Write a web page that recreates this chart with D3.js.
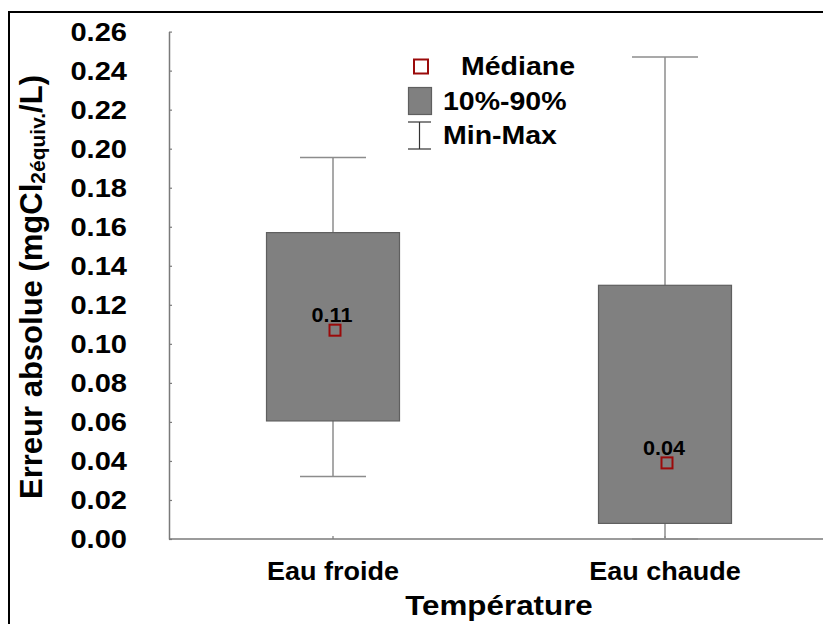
<!DOCTYPE html>
<html>
<head>
<meta charset="utf-8">
<script src="https://cdn.jsdelivr.net/npm/d3@7"></script>
<style>
  html, body { margin: 0; padding: 0; background: #fff; }
  svg { display: block; font-family: "Liberation Sans", Arial, sans-serif; font-weight: bold; }
</style>
</head>
<body>
<svg id="chart" width="823" height="624"></svg>
<script>
// Box-plot data: one entry per temperature condition
const categories = ["Eau froide", "Eau chaude"];
const minValues = [0.032, 0.000];
const p10Values = [0.0605, 0.008];
const medianValues = [0.107, 0.039];
const p90Values = [0.157, 0.130];
const maxValues = [0.1955, 0.247];
const medianLabels = ["0.11", "0.04"];
const yTicks = [0, 0.02, 0.04, 0.06, 0.08, 0.10, 0.12, 0.14, 0.16, 0.18, 0.20, 0.22, 0.24, 0.26];
const yTickLabels = ["0.00", "0.02", "0.04", "0.06", "0.08", "0.10", "0.12", "0.14", "0.16", "0.18", "0.20", "0.22", "0.24", "0.26"];
const legendLabels = ["Médiane", "10%-90%", "Min-Max"];

const svg = d3.select("#chart");
const SX = 1.14; // horizontal stretch applied to the labels

// outer frame
svg.append("rect").attr("x", 9).attr("y", 12).attr("width", 840).attr("height", 700)
  .attr("fill", "none").attr("stroke", "#000").attr("stroke-width", 2);

const plotLeft = 169, plotRight = 840, plotBottom = 539;
const y = d3.scaleLinear().domain([0, 0.26]).range([plotBottom, 31.6]);
const x = d3.scalePoint().domain(categories).range([333, 665]);

const axisColor = "#7a7a7a";

// y axis with inward ticks
const yAxis = svg.append("g").attr("transform", `translate(${plotLeft},0)`)
  .call(d3.axisLeft(y).tickValues(yTicks).tickSize(-3).tickSizeOuter(0)
    .tickFormat((d, i) => yTickLabels[i]));
yAxis.select(".domain").attr("stroke", axisColor).attr("stroke-width", 1.5);
yAxis.selectAll(".tick line").attr("stroke", axisColor).attr("stroke-width", 1.2);
yAxis.selectAll(".tick text")
  .attr("x", 0).attr("dy", null)
  .attr("transform", `translate(-42,8.8) scale(${SX},1)`)
  .attr("font-size", 25.5).attr("font-weight", "bold").attr("fill", "#000")
  .attr("font-family", "Liberation Sans, Arial, sans-serif");

// x axis line and inward ticks
svg.append("line").attr("x1", plotLeft).attr("x2", plotRight)
  .attr("y1", plotBottom).attr("y2", plotBottom)
  .attr("stroke", axisColor).attr("stroke-width", 1.5);
svg.selectAll(".xtick").data(categories).join("line")
  .attr("x1", d => x(d)).attr("x2", d => x(d))
  .attr("y1", plotBottom).attr("y2", plotBottom - 3)
  .attr("stroke", axisColor).attr("stroke-width", 1.2);

// stretched text helper
function label(parent, tx, ty, text, size, anchor, sx) {
  const g = parent.append("g").attr("transform", `translate(${tx},${ty}) scale(${sx},1)`);
  return g.append("text").attr("text-anchor", anchor).attr("font-size", size)
    .attr("font-weight", "bold").attr("fill", "#000").text(text);
}

categories.forEach(c => label(svg, x(c), 580, c, 25, "middle", 1.08));
label(svg, 499, 615, "Température", 28, "middle", 1.12);

// y axis title with subscript
const yt = svg.append("text")
  .attr("transform", "translate(42,287) rotate(-90)")
  .attr("text-anchor", "middle").attr("font-size", 31).attr("font-weight", "bold").attr("fill", "#000");
yt.append("tspan").text("Erreur absolue (mgCl");
yt.append("tspan").attr("font-size", 21).attr("dy", 3).text("2équiv.");
yt.append("tspan").attr("dy", -3).text("/L)");

// boxes
const boxW = 133, capW = 66;
const data = categories.map((c, i) => ({
  c, min: minValues[i], p10: p10Values[i], med: medianValues[i],
  p90: p90Values[i], max: maxValues[i], lab: medianLabels[i]
}));
const whiskerColor = "#8c8c8c";
const g = svg.append("g");
data.forEach(d => {
  const cx = x(d.c);
  // whisker line from min to max
  g.append("line").attr("x1", cx).attr("x2", cx).attr("y1", y(d.min)).attr("y2", y(d.max))
    .attr("stroke", whiskerColor).attr("stroke-width", 1.5);
  [d.min, d.max].forEach(v => g.append("line")
    .attr("x1", cx - capW / 2).attr("x2", cx + capW / 2).attr("y1", y(v)).attr("y2", y(v))
    .attr("stroke", whiskerColor).attr("stroke-width", 1.5));
  g.append("rect").attr("x", cx - boxW / 2).attr("width", boxW)
    .attr("y", y(d.p90)).attr("height", y(d.p10) - y(d.p90))
    .attr("fill", "#808080").attr("stroke", "#5f5f5f").attr("stroke-width", 1.2);
  // median marker
  g.append("rect").attr("x", cx + 2 - 5.5).attr("y", y(d.med) - 5.5).attr("width", 11).attr("height", 11)
    .attr("fill", "none").attr("stroke", "#9b0a0a").attr("stroke-width", 2);
  label(g, cx - 1, y(d.med) - 8, d.lab, 20, "middle", 1.08);
});

// legend
const lg = svg.append("g");
lg.append("rect").attr("x", 414).attr("y", 59.5).attr("width", 14).attr("height", 14)
  .attr("fill", "#fff").attr("stroke", "#9b0a0a").attr("stroke-width", 2);
lg.append("rect").attr("x", 408.5).attr("y", 87.5).attr("width", 23).attr("height", 27)
  .attr("fill", "#808080").attr("stroke", "#5f5f5f").attr("stroke-width", 1.2);
lg.append("line").attr("x1", 408).attr("x2", 431).attr("y1", 122).attr("y2", 122).attr("stroke", "#333").attr("stroke-width", 1.2);
lg.append("line").attr("x1", 408).attr("x2", 431).attr("y1", 149).attr("y2", 149).attr("stroke", "#333").attr("stroke-width", 1.2);
lg.append("line").attr("x1", 419.5).attr("x2", 419.5).attr("y1", 122).attr("y2", 149).attr("stroke", "#333").attr("stroke-width", 1.2);
label(lg, 461, 75, legendLabels[0], 25, "start", SX);
label(lg, 443, 110, legendLabels[1], 25, "start", SX);
label(lg, 443, 144, legendLabels[2], 25, "start", SX);
</script>
</body>
</html>
